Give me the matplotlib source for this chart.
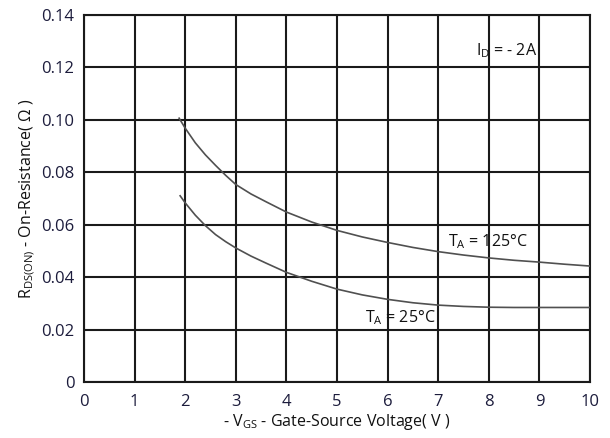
import numpy as np
import matplotlib
matplotlib.use("Agg")
import matplotlib.pyplot as plt

plt.rcParams['font.family'] = ['Open Sans', 'DejaVu Sans']
plt.rcParams['mathtext.fontset'] = 'custom'
plt.rcParams['mathtext.rm'] = 'Open Sans'
plt.rcParams['mathtext.it'] = 'Open Sans'

# Gate-source voltage (V) and on-resistance (ohm) readings
vgs_125 = [1.88, 2.0, 2.2, 2.4, 2.6, 2.8, 3.0, 3.3, 3.6, 4.0, 4.5, 5.0, 5.5, 6.0, 6.5, 7.0, 7.5, 8.0, 8.5, 9.0, 9.5, 10.0]
rds_125 = [0.1006, 0.0968, 0.0912, 0.0866, 0.0826, 0.0788, 0.0753, 0.0717, 0.0687, 0.0648, 0.0610, 0.0578, 0.0553, 0.0532, 0.0513, 0.0497, 0.0484, 0.0473, 0.0464, 0.0457, 0.0449, 0.0442]

vgs_25 = [1.9, 2.0, 2.2, 2.4, 2.6, 2.8, 3.0, 3.3, 3.6, 4.0, 4.5, 5.0, 5.5, 6.0, 6.5, 7.0, 7.5, 8.0, 8.5, 9.0, 9.5, 10.0]
rds_25 = [0.0710, 0.0683, 0.0636, 0.0596, 0.0562, 0.0535, 0.0511, 0.0480, 0.0453, 0.0418, 0.0384, 0.0354, 0.0332, 0.0315, 0.0302, 0.0293, 0.0288, 0.0285, 0.0284, 0.0284, 0.0284, 0.0284]

x_ticks = list(range(0, 11))
y_ticks = [0, 0.02, 0.04, 0.06, 0.08, 0.10, 0.12, 0.14]
y_tick_labels = ['0', '0.02', '0.04', '0.06', '0.08', '0.10', '0.12', '0.14']

label_color = '#1c1c3c'

fig = plt.figure(figsize=(6.1, 4.38), dpi=100)
ax = fig.add_axes([0.1377, 0.128, 0.8295, 0.838])

ax.plot(vgs_125, rds_125, color='#505050', lw=1.2, zorder=3)
ax.plot(vgs_25, rds_25, color='#505050', lw=1.2, zorder=3)

ax.set_xlim(0, 10)
ax.set_ylim(0, 0.14)
ax.set_xticks(x_ticks)
ax.set_yticks(y_ticks)
ax.set_yticklabels(y_tick_labels)
ax.tick_params(length=0, labelsize=12, colors=label_color)
ax.tick_params(axis='y', pad=7)
ax.tick_params(axis='x', pad=9)
ax.grid(True, color='#1a1a1a', lw=1.5)
ax.set_axisbelow(True)
for s in ax.spines.values():
    s.set_color('#1a1a1a')
    s.set_linewidth(1.5)

ax.set_xlabel(r'- V$_{\mathregular{GS}}$ - Gate-Source Voltage( V )', fontsize=11.5, color='#111111', labelpad=1)
ax.set_ylabel(r'R$_{\mathregular{DS(ON)}}$ - On-Resistance( Ω )', fontsize=11.5, color='#111111', labelpad=3)

ax.text(7.75, 0.1265, r'I$_{\mathregular{D}}$ = - 2A', fontsize=11.5, color='#111111', va='center')
ax.text(7.2, 0.0535, r'T$_{\mathregular{A}}$ = 125°C', fontsize=11.5, color='#111111', va='center')
ax.text(5.55, 0.0245, r'T$_{\mathregular{A}}$ = 25°C', fontsize=11.5, color='#111111', va='center')

fig.savefig('out.png', dpi=100)
